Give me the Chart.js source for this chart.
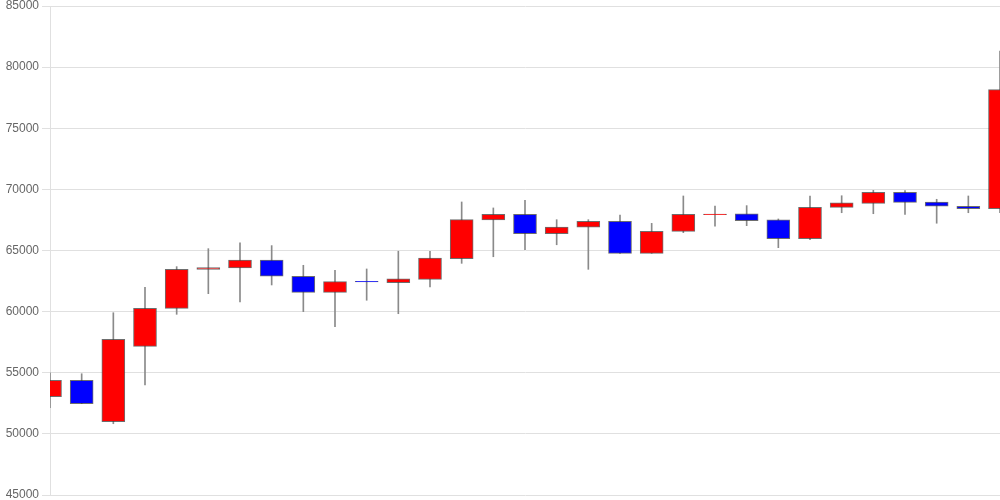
<!DOCTYPE html>
<html>
<head>
<meta charset="utf-8">
<script src="https://cdn.jsdelivr.net/npm/chart.js@4"></script>
<style>
  html, body { margin: 0; padding: 0; background: #fff; }
  #wrap { width: 1000px; height: 500px; position: relative; }
</style>
</head>
<body>
<div id="wrap"><canvas id="candleChart"></canvas></div>
<script>
/* ======================
DATA
====================== */

const days = [
  "1", "2", "3", "4", "5", "6", "7", "8", "9", "10",
  "11", "12", "13", "14", "15", "16", "17", "18", "19", "20",
  "21", "22", "23", "24", "25", "26", "27", "28", "29", "30", "31"
];

const openPrices = [
  53040, 54380, 51000, 57160, 60270, 63460, 63570, 64220, 62890, 61580,
  62470, 62370, 62640, 64330, 67500, 67960, 66370, 66900, 67390, 64770,
  66570, 67940, 67990, 67500, 65970, 68530, 68860, 69760, 68970, 68620, 68420
];

const closePrices = [
  54380, 52470, 57740, 60270, 63460, 63600, 64220, 62890, 61580, 62450,
  62430, 62690, 64390, 67520, 67960, 66370, 66920, 67390, 64770, 66570,
  67960, 67980, 67440, 65970, 68530, 68890, 69760, 68940, 68620, 68420, 78160
];

const highPrices = [
  55000, 54920, 59910, 61990, 63680, 65150, 65630, 65400, 63790, 63380,
  63490, 64940, 64940, 68970, 68480, 69110, 67520, 67520, 67900, 67220,
  69460, 68640, 68670, 67580, 69460, 69480, 69920, 69900, 69190, 69460, 81320
];

const lowPrices = [
  52150, 52470, 50830, 54000, 59780, 61470, 60790, 62180, 60000, 58770,
  60930, 59830, 62030, 63950, 64490, 65070, 65470, 63460, 64770, 64770,
  66460, 66980, 67030, 65230, 65880, 68090, 68010, 67960, 67230, 68090, 68090
];

const yTicks = [45000, 50000, 55000, 60000, 65000, 70000, 75000, 80000, 85000];

/* ======================
BUILD DATASETS
====================== */

const UP_COLOR = "#ff0000";
const DOWN_COLOR = "#0000ff";

const bodies = days.map((d, i) => [openPrices[i], closePrices[i]]);
const wicks = days.map((d, i) => [lowPrices[i], highPrices[i]]);
const bodyColors = days.map((d, i) =>
  closePrices[i] >= openPrices[i] ? UP_COLOR : DOWN_COLOR
);

/* ======================
CREATE CHART
====================== */

new Chart(document.getElementById("candleChart"), {
  type: "bar",
  data: {
    labels: days,
    datasets: [
      {
        label: "body",
        data: bodies,
        backgroundColor: bodyColors,
        borderColor: "rgba(60,60,60,0.75)",
        borderWidth: 1,
        borderSkipped: false,
        barThickness: 23,
        grouped: false,
        order: 0,
      },
      {
        label: "wick",
        data: wicks,
        backgroundColor: "#8a8a8a",
        borderWidth: 0,
        barThickness: 1,
        grouped: false,
        order: 1,
      },
    ],
  },
  options: {
    responsive: true,
    maintainAspectRatio: false,
    animation: false,
    layout: { padding: { top: 6, right: 0, bottom: 5, left: 0 } },
    plugins: {
      legend: { display: false },
      tooltip: { enabled: false },
    },
    scales: {
      x: {
        display: false,
        offset: false,
        grid: { offset: false },
      },
      y: {
        min: 45000,
        max: 85000,
        afterBuildTicks: (scale) => {
          scale.ticks = yTicks.map((v) => ({ value: v }));
        },
        afterFit: (scale) => {
          scale.width = 50;
          scale.paddingTop = 0;
          scale.paddingBottom = 0;
        },
        ticks: {
          color: "#666",
          font: { family: "'Liberation Sans', Arial, sans-serif", size: 12 },
          callback: (value) => String(value),
        },
        grid: { color: "#e0e0e0" },
        border: { color: "#e0e0e0" },
      },
    },
  },
});
</script>
</body>
</html>
